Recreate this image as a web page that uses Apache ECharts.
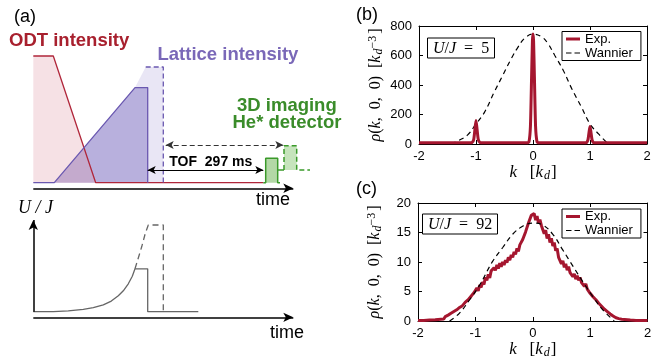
<!DOCTYPE html>
<html><head><meta charset="utf-8">
<script src="https://cdn.jsdelivr.net/npm/echarts/dist/echarts.min.js"></script>
<style>html,body{margin:0;padding:0;background:#fff}#c{width:670px;height:360px}</style>
</head><body><div id="c"></div>
<script>
// ---------- Panel (a) schematic (time units, intensity units) ----------
const odtFill = [[0,1],[20,1],[62.4,0]];
const odtLine = [[0,1],[20,1],[62.4,0],[230,0]];
const latFill = [[21,0],[101.7,0.751],[114.4,0.751],[114.4,0]];
const latLine = [[0,0],[21,0],[101.7,0.751],[114.4,0.751],[114.4,0]];
const latExtFill = [[101.7,0.751],[112.4,0.913],[130,0.913],[130,0]];
const latExtLine = [[112.4,0.913],[130,0.913],[130,0]];
const detBoxFill = [[232.4,0.193],[244.4,0.193]];
const detBoxLine = [[230,0],[232.4,0],[232.4,0.193],[244.4,0.193],[244.4,0],[246.7,0]];
const detStep = [[244.4,0.1],[250.7,0.1]];
const detDashFill = [[250.7,0.292],[263.4,0.292]];
const detDashLine = [[250.7,0.1],[250.7,0.292],[263.4,0.292],[263.4,0.1],[276.7,0.1]];
const timeArrowA = [[0,-0.044],[260,-0.044]];
const tofArrow = [[114.4,0.1],[230,0.1]];
const tofDashArrow = [[132.4,0.298],[250,0.298]];
// lower schematic U/J vs time
const ujCurve = [[0,5.6],[20,5.7],[35,6.4],[50,7.9],[60,9.6],[70,12.4],[78,16.2],[85,21.5],[90,26.5],[95,33.5],[99,41],[101.7,48.5],[114.4,48.5],[114.4,5.6],[165,5.6]];
const ujDash = [[101.7,48.5],[104,56],[108.4,70.5],[112,84],[115,92.3],[130,92.3],[130,5.6]];
const ujXArrow = [[0,0],[260,0]];
const ujYArrow = [[0,5.6],[0,97.3]];

// ---------- Panel (b) ----------
const bExp = [[-2,8],[-1.12,8],[-1.07,10],[-1.04,30],[-1.02,95],[-1.0,159],[-0.98,95],[-0.96,30],[-0.93,10],[-0.88,8],[-0.1,8],[-0.07,15],[-0.045,120],[-0.025,450],[-0.01,700],[0,745],[0.01,700],[0.025,450],[0.045,120],[0.07,15],[0.1,8],[0.9,8],[0.94,10],[0.965,30],[0.985,85],[1.0,118],[1.015,85],[1.035,30],[1.06,10],[1.1,8],[2,8]];
const bWan = [[-1.44,0],[-1.3,25],[-1.15,60],[-1.0,136],[-0.85,216],[-0.68,352],[-0.53,466],[-0.38,580],[-0.26,659],[-0.15,716],[0,745],[0.15,727],[0.26,682],[0.38,602],[0.53,500],[0.68,375],[0.85,250],[1.0,136],[1.15,68],[1.32,0]];

// ---------- Panel (c) ----------
const cExp = [[-2,0.1],[-1.9,0.1],[-1.8,0.15],[-1.7,0.2],[-1.65,0.25],
[-1.6,0.3],[-1.575,0.5],[-1.55,0.35],[-1.525,0.75],[-1.5,0.6],[-1.475,1.0],[-1.45,0.8],[-1.425,1.3],[-1.4,1.1],[-1.375,1.6],[-1.35,1.3],[-1.325,1.9],[-1.3,1.6],[-1.275,2.3],[-1.25,2.0],[-1.225,2.6],[-1.2,2.4],[-1.175,3.2],[-1.15,2.9],[-1.125,3.6],[-1.1,3.3],[-1.075,4.2],[-1.05,3.9],[-1.025,4.8],[-1.0,4.5],[-0.975,5.6],[-0.95,5.1],[-0.925,6.1],[-0.9,5.7],[-0.875,6.6],[-0.85,6.2],[-0.825,7.4],[-0.8,6.9],[-0.775,7.9],[-0.75,7.3],[-0.725,8.5],[-0.7,8.2],[-0.675,9.0],[-0.65,8.6],[-0.625,9.5],[-0.6,8.9],[-0.575,9.8],[-0.55,9.2],[-0.525,10.0],[-0.5,9.5],[-0.475,10.3],[-0.45,9.9],[-0.425,10.8],[-0.4,10.3],[-0.375,11.2],[-0.35,10.8],[-0.325,11.7],[-0.3,11.3],[-0.275,12.3],[-0.25,11.8],[-0.225,12.9],[-0.2,12.6],[-0.175,13.8],[-0.15,13.5],[-0.125,15.1],[-0.1,15.0],[-0.075,16.6],[-0.05,16.9],[-0.025,17.9],
[0,17.6],[0.025,18.2],[0.05,17.1],[0.075,17.8],[0.1,16.6],[0.125,17.2],[0.15,16.2],[0.175,16.4],[0.2,14.8],[0.225,15.4],[0.25,14.0],[0.275,14.7],[0.3,13.3],[0.325,14.0],[0.35,12.7],[0.375,13.3],[0.4,11.9],[0.425,12.3],[0.45,10.8],[0.475,11.1],[0.5,9.7],[0.525,10.2],[0.55,9.1],[0.575,9.7],[0.6,8.6],[0.625,9.2],[0.65,8.2],[0.675,8.4],[0.7,7.5],[0.725,8.0],[0.75,7.1],[0.775,7.7],[0.8,6.9],[0.825,7.4],[0.85,6.5],[0.875,6.7],[0.9,5.9],[0.925,6.3],[0.95,5.4],[0.975,5.6],[1.0,4.7],[1.025,5.0],[1.05,4.1],[1.075,4.3],[1.1,3.6],[1.125,3.8],[1.15,3.0],[1.175,3.2],[1.2,2.5],[1.225,2.7],[1.25,2.0],[1.275,2.2],[1.3,1.6],[1.325,1.7],[1.35,1.2],[1.375,1.3],[1.4,0.85],[1.425,0.95],[1.45,0.55],[1.475,0.6],[1.5,0.4],[1.525,0.45],[1.55,0.3],[1.6,0.25],
[1.7,0.15],[1.8,0.1],[1.9,0.1],[2,0.1]];
const cWan = [[-1.45,0],[-1.28,1.3],[-1.1,3.6],[-0.93,6.0],[-0.7,10.1],[-0.52,12.5],[-0.35,14.7],[-0.17,16.1],[0,16.6],[0.17,16.3],[0.35,14.7],[0.52,12.1],[0.7,9.3],[0.87,6.7],[1.05,4.1],[1.22,1.9],[1.42,0]];

const kTicks = {min:-2, max:2, interval:1};
const bY = {min:0, max:800, interval:200};
const cY = {min:0, max:20, interval:5};
const uj = ['5','92'];

const RED = '#a5162f';
const SANS = '"Liberation Sans", Arial, sans-serif';
const SERIF = '"Liberation Serif", "Times New Roman", serif';

const chart = echarts.init(document.getElementById('c'), null, {renderer:'canvas'});

function hidX(i){return {gridIndex:i, type:'value', min:-10, max:280, show:false};}
function boxAxisX(g, pos, t){
  return {gridIndex:g, type:'value', position:pos, min:t.min, max:t.max, interval:t.interval,
    axisLine:{show:true, onZero:false, lineStyle:{color:'#000', width:1}},
    axisTick:{show:true, inside:true, length:4, lineStyle:{color:'#000'}},
    axisLabel:{show:pos==='bottom', color:'#000', fontSize:13, fontFamily:SANS, margin:6},
    splitLine:{show:false},
    name: pos==='bottom' ? '{i|k}   [{i|k}{sub|d}]' : '',
    nameLocation:'middle', nameGap:18,
    nameTextStyle:{fontFamily:SERIF, fontSize:17, color:'#000',
      rich:{i:{fontFamily:SERIF, fontStyle:'italic', fontSize:17, color:'#000'},
            sub:{fontFamily:SERIF, fontStyle:'italic', fontSize:12, color:'#000', verticalAlign:'bottom', padding:[6,1,0,1]}}}
  };
}
function boxAxisY(g, pos, t){
  return {gridIndex:g, type:'value', position:pos, min:t.min, max:t.max, interval:t.interval,
    axisLine:{show:true, onZero:false, lineStyle:{color:'#000', width:1}},
    axisTick:{show:true, inside:true, length:4, lineStyle:{color:'#000'}},
    axisLabel:{show:pos==='left', color:'#000', fontSize:13, fontFamily:SANS, margin:7},
    splitLine:{show:false},
    name: pos==='left' ? '{i|ρ}({i|k},  0,  0)  [{i|k}{sub|d}{sup|−3}]' : '',
    nameLocation:'middle', nameRotate:90, nameGap:34,
    nameTextStyle:{fontFamily:SERIF, fontSize:16, color:'#000',
      rich:{i:{fontFamily:SERIF, fontStyle:'italic', fontSize:16, color:'#000'},
            sub:{fontFamily:SERIF, fontStyle:'italic', fontSize:12, color:'#000', verticalAlign:'bottom', padding:[6,0,0,1]}, 
            sup:{fontFamily:SERIF, fontSize:12, color:'#000', verticalAlign:'top', padding:[0,2,6,0]}}}
  };
}
function line(xi, yi, data, color, width, extra){
  return Object.assign({type:'line', xAxisIndex:xi, yAxisIndex:yi, data:data, showSymbol:false, symbol:'none',
    silent:true, animation:false, lineStyle:{color:color, width:width}, z:3}, extra||{});
}
function fill(xi, yi, data, color, extra){
  return Object.assign({type:'line', xAxisIndex:xi, yAxisIndex:yi, data:data, showSymbol:false, symbol:'none',
    silent:true, animation:false, lineStyle:{width:0, opacity:0}, areaStyle:{color:color, opacity:1}, z:2}, extra||{});
}
function arrow(xi, yi, pts, sym, color, width, type, size){
  return {type:'line', xAxisIndex:xi, yAxisIndex:yi, data:[], silent:true, animation:false, symbol:'none',
    markLine:{silent:true, animation:false, symbol:sym, symbolSize:size||[6,9], label:{show:false},
      lineStyle:{color:color, width:width, type:type},
      emphasis:{disabled:true},
      data:[[{coord:pts[0]},{coord:pts[1]}]]}};
}
function ujBox(txt, left, top){
  return {text:'{i|U}/{i|J}  =  '+txt, left:left, top:top, padding:[3,6,2,6],
    borderColor:'#000', borderWidth:1, backgroundColor:'#fff',
    textStyle:{fontFamily:SERIF, fontSize:16, fontWeight:'normal', color:'#000',
      rich:{i:{fontFamily:SERIF, fontStyle:'italic', fontSize:16, color:'#000'}}}};
}
function legend(top){
  return {data:[
      {name:'Exp.', icon:'path://M0,0h14v3h-14z'},
      {name:'Wannier', icon:'path://M0,0h5.5v1.2h-5.5z M8.5,0h5.5v1.2h-5.5z'}],
    orient:'vertical', left:562, top:top, itemGap:1, itemWidth:14, itemHeight:12,
    itemStyle:{borderWidth:0},
    padding:[1,8,1,4], backgroundColor:'#fff', borderColor:'#000', borderWidth:1, borderRadius:0,
    selectedMode:false, textStyle:{fontFamily:SANS, fontSize:13, color:'#000'}};
}
function txt(x, y, s, font, fill, align){
  return {type:'text', x:x, y:y, silent:true, z:10,
    style:{text:s, font:font, fill:fill, textAlign:align||'left', textVerticalAlign:'middle', align:align||'left', verticalAlign:'middle'}};
}

const option = {
  backgroundColor:'#fff',
  animation:false,
  grid:[
    {left:23.3, top:43.33, width:290, height:152.04, containLabel:false, outerBoundsMode:'none'},
    {left:23.3, top:215, width:290, height:107.3, containLabel:false, outerBoundsMode:'none'},
    {left:419, top:26, width:228, height:118, containLabel:false, outerBoundsMode:'none'},
    {left:418, top:203, width:229.5, height:118, containLabel:false, outerBoundsMode:'none'}
  ],
  xAxis:[hidX(0), hidX(1), boxAxisX(2,'bottom',kTicks), boxAxisX(2,'top',kTicks), boxAxisX(3,'bottom',kTicks), boxAxisX(3,'top',kTicks)],
  yAxis:[
    {gridIndex:0, type:'value', min:-0.1, max:1.1, show:false},
    {gridIndex:1, type:'value', min:-5, max:102.3, show:false},
    boxAxisY(2,'left',bY), boxAxisY(2,'right',bY), boxAxisY(3,'left',cY), boxAxisY(3,'right',cY)
  ],
  title:[ujBox(uj[0], 427, 37.5), ujBox(uj[1], 422, 213.5)],
  legend:[legend(31.5), legend(209)],
  graphic:[
    txt(14, 17.5, '(a)', '18px '+SANS, '#000'),
    txt(356, 15, '(b)', '18px '+SANS, '#000'),
    txt(356, 189, '(c)', '18px '+SANS, '#000'),
    txt(9, 40.5, 'ODT intensity', 'bold 18.5px '+SANS, '#a8202e'),
    txt(157.5, 54.5, 'Lattice intensity', 'bold 18.5px '+SANS, '#7a68b8'),
    txt(237, 105.5, '3D imaging', 'bold 18.5px '+SANS, '#3a8c2a'),
    txt(232.5, 123, 'He* detector', 'bold 18.5px '+SANS, '#3a8c2a'),
    txt(210.8, 162.5, 'TOF  297 ms', 'bold 14px '+SANS, '#000', 'center'),
    txt(256, 200.5, 'time', '18px '+SANS, '#000'),
    txt(270, 333.5, 'time', '18px '+SANS, '#000'),
    txt(18, 208.5, 'U / J', 'italic 18px '+SERIF, '#000')
  ],
  series:[
    // panel (a) fills
    fill(0,0, latExtFill, '#e9e6f5'),
    fill(0,0, latFill, '#b8b0dd'),
    fill(0,0, odtFill, 'rgba(225,155,168,0.3)'),
    fill(0,0, detBoxFill, '#b3d8a6'),
    fill(0,0, detDashFill, '#c6e4bc', {areaStyle:{color:'#c6e4bc', opacity:1, origin:0.1}}),
    // panel (a) strokes
    line(0,0, odtLine, '#b0263a', 1.3),
    line(0,0, latLine, '#6a58b0', 1.3),
    line(0,0, latExtLine, '#6a58b0', 1.3, {lineStyle:{color:'#6a58b0', width:1.3, type:[5,3]}}),
    line(0,0, detBoxLine, '#3a9a2a', 1.5),
    line(0,0, detStep, '#3a9a2a', 1.5),
    line(0,0, detDashLine, '#3a9a2a', 1.5, {lineStyle:{color:'#3a9a2a', width:1.5, type:[5,3]}}),
    arrow(0,0, timeArrowA, ['none','arrow'], '#000', 1.5, 'solid', [7,10]),
    arrow(0,0, tofArrow, ['arrow','arrow'], '#000', 1.2, 'solid', [6,8]),
    arrow(0,0, tofDashArrow, ['arrow','arrow'], '#333', 1.2, [5,3], [6,8]),
    // lower schematic
    line(1,1, ujCurve, '#666', 1.3),
    line(1,1, ujDash, '#666', 1.3, {lineStyle:{color:'#666', width:1.3, type:[6,4]}}),
    arrow(1,1, ujXArrow, ['none','arrow'], '#000', 1.5, 'solid', [7,10]),
    arrow(1,1, ujYArrow, ['none','arrow'], '#000', 1.5, 'solid', [7,10]),
    // panel (b)
    line(2,2, bWan, '#000', 1.2, {name:'Wannier', smooth:0.4, lineStyle:{color:'#000', width:1.2, type:[5,4]}, itemStyle:{color:'#000'}}),
    line(2,2, bExp, RED, 3, {name:'Exp.', smooth:0.2, itemStyle:{color:RED}, z:4}),
    // panel (c)
    line(4,4, cWan, '#000', 1.2, {name:'Wannier', smooth:0.4, lineStyle:{color:'#000', width:1.2, type:[5,4]}, itemStyle:{color:'#000'}, z:5}),
    line(4,4, cExp, RED, 3, {name:'Exp.', itemStyle:{color:RED}, z:4})
  ]
};
chart.setOption(option);
</script></body></html>
